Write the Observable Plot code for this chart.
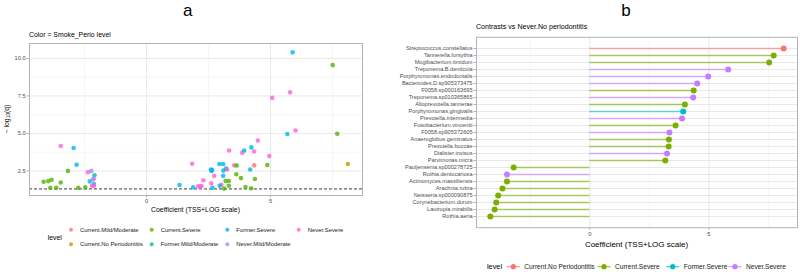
<!DOCTYPE html>
<html>
<head>
<meta charset="utf-8">
<script src="https://cdn.jsdelivr.net/npm/d3@7"></script>
<script src="https://cdn.jsdelivr.net/npm/@observablehq/plot@0.6"></script>
<style>
  html, body { margin: 0; padding: 0; background: #fff; }
  #fig { position: relative; width: 800px; height: 272px; overflow: hidden; font-family: "Liberation Sans", Arial, sans-serif; }
  #fig > svg { position: absolute; top: 0; }
</style>
</head>
<body>
<div id="fig"></div>
<script>
// ---- Panel a: volcano-style scatter of coefficients ----
const levelsA = ["Current.Mild/Moderate", "Current.No Periodontitis", "Current.Severe",
  "Former.Mild/Moderate", "Former.Severe", "Never.Mild/Moderate", "Never.Severe"];
const colorsA = ["#F8766D", "#C49A00", "#53B400", "#00C094", "#00B6EB", "#A58AFF", "#FB61D7"];
const levelCodes = {CM: 0, CN: 1, CS: 2, FM: 3, FS: 4, NM: 5, NS: 6};

const coefA = [
  -3.46, -2.94, -2.82, -3.17, -4.15, -3.96, -3.83, -3.46, -3.88, -3.64, -2.75, -2.47,
  -2.37, -2.23, -2.10, -2.15, -2.13, -2.29, -2.12, -2.20, -2.12,
  1.33, 1.84, 1.88, 2.08, 2.16, 2.22, 2.29, 2.60, 2.62, 2.64, 2.73, 2.61, 2.66,
  2.94, 3.09, 3.09, 3.10, 3.20, 3.25, 3.33, 3.02, 2.95, 3.13, 3.19, 3.32, 3.32,
  3.54, 3.64, 3.62, 3.81, 3.86, 3.94, 3.99, 4.22, 4.23, 4.34, 4.18, 4.34, 4.37,
  4.49, 4.95, 4.87, 5.68, 6.01, 7.69, 8.12, 5.89, 7.51, 5.79, 5.07
];
const negLogQA = [
  4.16, 4.03, 2.91, 2.50, 1.78, 1.82, 1.91, 1.73, 1.38, 1.38, 1.38, 1.40,
  2.41, 2.50, 2.21, 1.93, 1.99, 1.80, 1.62, 1.51, 1.51,
  1.56, 2.98, 1.41, 1.47, 1.46, 1.49, 1.88, 2.59, 2.50, 2.55, 2.17, 1.67, 1.38,
  2.96, 2.96, 2.17, 2.52, 2.65, 2.60, 3.86, 1.58, 1.51, 1.32, 1.83, 1.83, 1.51,
  2.87, 2.86, 2.28, 2.02, 3.72, 3.86, 1.43, 1.34, 4.07, 3.80, 2.59, 2.87, 1.96,
  4.53, 3.49, 2.89, 4.96, 5.20, 4.98, 2.96, 10.41, 9.56, 7.74, 7.37
];
const levelA = [
  "NS", "FS", "FS", "CS", "CS", "CS", "CS", "CS", "CS", "CS", "CS", "CS",
  "NS", "NM", "FM", "NS", "NM", "FS", "FS", "NS", "NS",
  "FS", "NS", "FS", "NS", "NS", "NS", "NS", "FS", "FS", "FS", "NS", "NS", "FS",
  "FS", "FS", "FS", "FS", "FS", "NS", "NS", "NS", "FS", "CS", "CS", "CS", "CS",
  "NS", "CS", "CS", "CS", "NS", "FS", "CS", "CS", "FS", "NS", "FS", "CM", "CS",
  "NS", "NS", "CS", "FS", "NS", "CS", "CN", "FS", "CS", "NS", "NS"
];
const qThreshold = 1.3; // -log10(0.05)

const xTicksA = [0, 5];
const xMinorA = [-2.5, 2.5, 7.5];
const yTicksA = [2.5, 5, 7.5, 10];
const yMinorA = [1.25, 3.75, 6.25, 8.75];

// ---- Panel b: lollipop of contrasts ----
const species = [
  "Streptococcus.constellatus", "Tannerella.forsythia", "Mogibacterium.timidum",
  "Treponema.B.denticola", "Porphyromonas.endodontalis", "Bacteroides.D.sp905373475",
  "F0058.sp000163695", "Treponema.sp010365865", "Alloprevotella.tannerae",
  "Porphyromonas.gingivalis", "Prevotella.intermedia", "Fusobacterium.vincentii",
  "F0058.sp905372605", "Anaeroglobus.geminatus", "Prevotella.buccae",
  "Dialister.invisus", "Parvimonas.micra", "Pauljensenia.sp000278725",
  "Rothia.dentocariosa", "Actinomyces.massiliensis", "Arachnia.rubra",
  "Neisseria.sp000090875", "Corynebacterium.durum", "Lautropia.mirabilis", "Rothia.aeria"
];
const coefB = [
  8.14, 7.72, 7.53, 5.81, 4.97, 4.51, 4.36, 4.34, 3.99, 3.92, 3.87, 3.60, 3.34,
  3.32, 3.31, 3.24, 3.17, -3.20, -3.48, -3.48, -3.67, -3.85, -3.93, -4.00, -4.18
];
const levelsB = ["Current.No Periodontitis", "Current.Severe", "Former.Severe", "Never.Severe"];
const colorsB = ["#F8766D", "#7CAE00", "#00BFC4", "#C77CFF"];
const levelB = [
  "Current.No Periodontitis", "Current.Severe", "Current.Severe", "Never.Severe",
  "Never.Severe", "Never.Severe", "Current.Severe", "Never.Severe", "Current.Severe",
  "Former.Severe", "Never.Severe", "Current.Severe", "Never.Severe", "Current.Severe",
  "Current.Severe", "Never.Severe", "Current.Severe", "Current.Severe", "Never.Severe",
  "Current.Severe", "Current.Severe", "Current.Severe", "Current.Severe",
  "Current.Severe", "Current.Severe"
];
const xTicksB = [0, 5];
const xMinorB = [-2.5, 2.5, 7.5];

// ---- shared styling ----
const FONT = "Liberation Sans, Arial, sans-serif";
const gridMajor = "#E3E3E3";
const gridMinor = "#F0F0F0";
const borderCol = "#B3B3B3";
const tickText = "#4D4D4D";

const pointsA = coefA.map((c, i) => ({coef: c, q: negLogQA[i], level: levelsA[levelCodes[levelA[i]]]}));
const rowsB = species.map((s, i) => ({species: s, coef: coefB[i], level: levelB[i]}));

const plotA = Plot.plot({
  width: 370, height: 272,
  marginLeft: 29, marginRight: 8, marginTop: 43, marginBottom: 77,
  style: {fontFamily: FONT, background: "transparent", overflow: "visible"},
  x: {domain: [-4.72, 8.71]},
  y: {domain: [0.86, 11.0]},
  color: {domain: levelsA, range: colorsA},
  marks: [
    Plot.ruleX(xMinorA, {stroke: gridMinor, strokeWidth: 0.6}),
    Plot.ruleY(yMinorA, {stroke: gridMinor, strokeWidth: 0.6}),
    Plot.ruleX(xTicksA, {stroke: gridMajor, strokeWidth: 0.8}),
    Plot.ruleY(yTicksA, {stroke: gridMajor, strokeWidth: 0.8}),
    Plot.ruleY([qThreshold], {stroke: "#111", strokeWidth: 0.8, strokeDasharray: "3,2"}),
    Plot.dot(pointsA, {x: "coef", y: "q", fill: "level", r: 2.3, fillOpacity: 0.8, stroke: null}),
    Plot.frame({stroke: borderCol, strokeWidth: 1}),
    Plot.axisX(xTicksA, {tickSize: 2.5, tickPadding: 1.5, stroke: borderCol, fill: tickText, fontSize: 5.6, label: null}),
    Plot.axisY(yTicksA, {tickSize: 2.5, tickPadding: 1.5, stroke: borderCol, fill: tickText, fontSize: 5.6, label: null, tickFormat: d3.format(".1f")})
  ]
});
plotA.style.left = "0px";

const plotB = Plot.plot({
  width: 400, height: 272,
  marginLeft: 76, marginRight: 3, marginTop: 36.8, marginBottom: 44.8,
  style: {fontFamily: FONT, background: "transparent", overflow: "visible"},
  x: {domain: [-4.76, 8.72]},
  y: {type: "point", domain: species, padding: 0.5},
  color: {domain: levelsB, range: colorsB},
  marks: [
    Plot.ruleX(xMinorB, {stroke: gridMinor, strokeWidth: 0.6}),
    Plot.ruleX(xTicksB, {stroke: gridMajor, strokeWidth: 0.8}),
    Plot.ruleY(species, {y: d => d, stroke: gridMajor, strokeWidth: 0.8}),
    Plot.ruleY(rowsB, {y: "species", x1: 0, x2: "coef", stroke: "level", strokeWidth: 1.4, strokeOpacity: 0.6}),
    Plot.dot(rowsB, {x: "coef", y: "species", fill: "level", r: 3, stroke: null}),
    Plot.frame({stroke: borderCol, strokeWidth: 1}),
    Plot.axisX(xTicksB, {tickSize: 2.5, tickPadding: 1.5, stroke: borderCol, fill: tickText, fontSize: 5.8, label: null}),
    Plot.axisY({tickSize: 2.5, tickPadding: 1.5, stroke: borderCol, fill: tickText, fontSize: 5.6, label: null})
  ]
});
plotB.style.left = "400px";

const fig = document.getElementById("fig");
fig.appendChild(plotA);
fig.appendChild(plotB);

// ---- panel tags, subtitles, axis titles and legends ----
const over = d3.create("svg").attr("width", 800).attr("height", 272)
  .style("left", "0px").style("font-family", FONT).style("pointer-events", "none");

function label(x, y, txt, size, opts = {}) {
  return over.append("text").attr("x", x).attr("y", y).attr("font-size", size)
    .attr("fill", opts.fill || "#000").attr("text-anchor", opts.anchor || "start").text(txt);
}

label(187.7, 15.6, "a", 17, {anchor: "middle"});
label(626, 15.6, "b", 17, {anchor: "middle"});
label(29, 36.8, "Color = Smoke_Perio level", 6.9);
label(476, 29.2, "Contrasts vs Never.No periodontitis", 7.1);
label(195.5, 211.8, "Coefficient (TSS+LOG scale)", 6.9, {anchor: "middle"});
label(636.5, 247.1, "Coefficient (TSS+LOG scale)", 8, {anchor: "middle"});

const yt = over.append("text").attr("transform", "translate(8.5,119) rotate(-90)")
  .attr("text-anchor", "middle").attr("font-size", 6.9).attr("fill", "#000");
yt.append("tspan").text("\u2212 log");
yt.append("tspan").attr("font-size", 4.8).attr("dy", 1.5).text("10");
yt.append("tspan").attr("dy", -1.5).text("(q)");

// legend a: two rows, filled column by column
label(47.7, 240.2, "level", 6.8);
const colX = [71, 151.7, 227.3, 298.7];
const rowY = [229.7, 244.3];
levelsA.forEach((lv, i) => {
  const cx = colX[Math.floor(i / 2)], cy = rowY[i % 2];
  over.append("circle").attr("cx", cx).attr("cy", cy).attr("r", 2).attr("fill", colorsA[i]).attr("fill-opacity", 0.8);
  label(cx + 9, cy + 2.1, lv, 5.9, {fill: "#1a1a1a"});
});

// legend b: single row of line+point keys
label(487, 269.4, "level", 7.3);
const keyX = [513.3, 604, 672.7, 735];
levelsB.forEach((lv, i) => {
  const cx = keyX[i], cy = 266.7;
  over.append("line").attr("x1", cx - 6.5).attr("x2", cx + 6.5).attr("y1", cy).attr("y2", cy)
    .attr("stroke", colorsB[i]).attr("stroke-width", 1.3).attr("stroke-opacity", 0.7);
  over.append("circle").attr("cx", cx).attr("cy", cy).attr("r", 2.6).attr("fill", colorsB[i]);
  label(cx + 11, cy + 2.3, lv, 6.6, {fill: "#1a1a1a"});
});

fig.appendChild(over.node());
</script>
</body>
</html>
